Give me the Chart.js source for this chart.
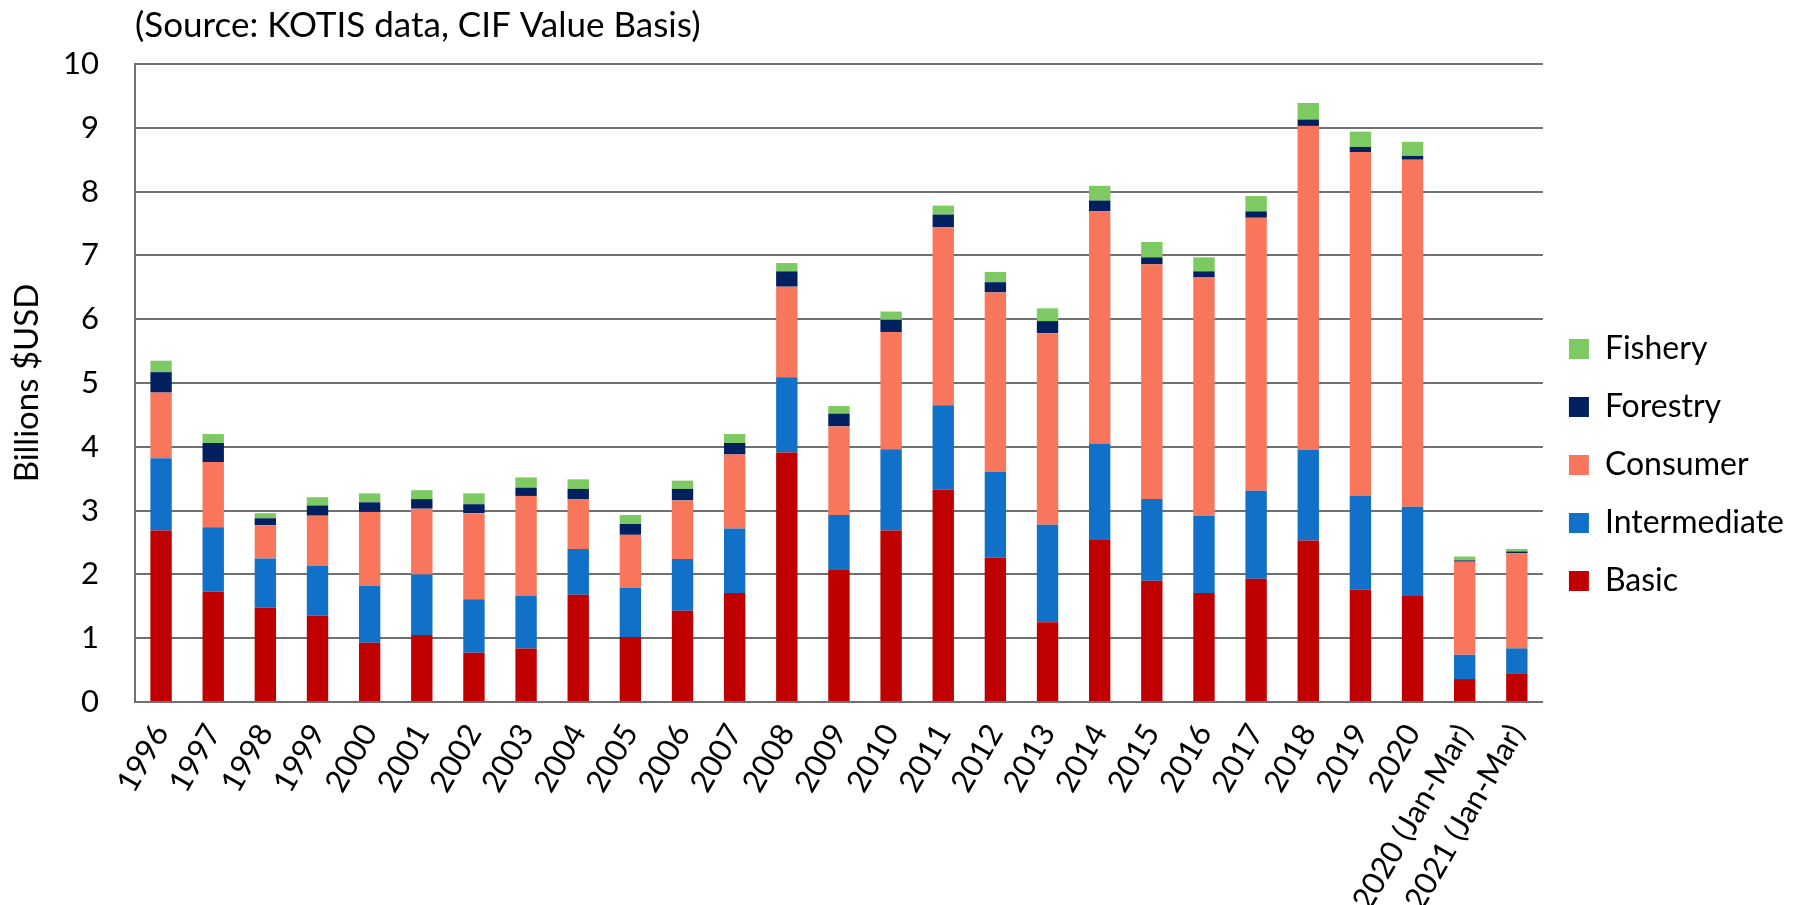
<!DOCTYPE html>
<html>
<head>
<meta charset="utf-8">
<script src="https://cdn.jsdelivr.net/npm/chart.js@4.4.1/dist/chart.umd.min.js"></script>
<style>
  html, body { margin: 0; padding: 0; background: #fff; }
</style>
</head>
<body>
<canvas id="tradeChart" width="1796" height="905"></canvas>
<script>
const years = ['1996', '1997', '1998', '1999', '2000', '2001', '2002', '2003', '2004', '2005',
  '2006', '2007', '2008', '2009', '2010', '2011', '2012', '2013', '2014', '2015',
  '2016', '2017', '2018', '2019', '2020', '2020 (Jan-Mar)', '2021 (Jan-Mar)'];

// billions USD
const basic = [2.69, 1.73, 1.48, 1.35, 0.93, 1.05, 0.77, 0.84, 1.68, 1.02,
  1.43, 1.71, 3.91, 2.07, 2.69, 3.33, 2.26, 1.25, 2.54, 1.90,
  1.71, 1.93, 2.53, 1.76, 1.66, 0.36, 0.44];
const intermediate = [1.13, 1.01, 0.77, 0.78, 0.89, 0.95, 0.84, 0.82, 0.72, 0.77,
  0.81, 1.01, 1.18, 0.86, 1.27, 1.32, 1.35, 1.53, 1.51, 1.28,
  1.21, 1.38, 1.42, 1.47, 1.40, 0.38, 0.40];
const consumer = [1.03, 1.02, 0.52, 0.79, 1.16, 1.03, 1.35, 1.57, 0.78, 0.83,
  0.92, 1.16, 1.42, 1.39, 1.84, 2.79, 2.81, 3.00, 3.64, 3.68,
  3.74, 4.28, 5.08, 5.39, 5.44, 1.46, 1.49];
const forestry = [0.32, 0.30, 0.11, 0.16, 0.15, 0.15, 0.14, 0.13, 0.16, 0.17,
  0.18, 0.18, 0.24, 0.20, 0.19, 0.20, 0.16, 0.19, 0.17, 0.11,
  0.09, 0.10, 0.10, 0.08, 0.06, 0.02, 0.03];
const fishery = [0.18, 0.14, 0.08, 0.13, 0.14, 0.14, 0.17, 0.16, 0.15, 0.14,
  0.13, 0.14, 0.13, 0.12, 0.13, 0.14, 0.16, 0.20, 0.23, 0.24,
  0.22, 0.24, 0.26, 0.24, 0.22, 0.06, 0.04];

const FONT = 'Lato, "Open Sans", sans-serif';
const GRID = '#707070';

function series(label, data, color) {
  return {
    label: label,
    data: data,
    backgroundColor: color,
    borderWidth: 0,
    barPercentage: 0.41,
    categoryPercentage: 1.0,
  };
}

const sourceNote = {
  id: 'sourceNote',
  afterDraw: (chart) => {
    const ctx = chart.ctx;
    ctx.save();
    ctx.fillStyle = '#000';
    ctx.font = '35px ' + FONT;
    ctx.textAlign = 'left';
    ctx.textBaseline = 'middle';
    ctx.fillText('(Source: KOTIS data, CIF Value Basis)', chart.chartArea.left, 26);
    ctx.restore();
  },
};

const ctx = document.getElementById('tradeChart').getContext('2d');
new Chart(ctx, {
  type: 'bar',
  data: {
    labels: years,
    datasets: [
      series('Basic', basic, '#C00000'),
      series('Intermediate', intermediate, '#1170C7'),
      series('Consumer', consumer, '#F8775C'),
      series('Forestry', forestry, '#002060'),
      series('Fishery', fishery, '#7DC962'),
    ],
  },
  options: {
    responsive: false,
    devicePixelRatio: 1,
    animation: false,
    layout: { padding: { top: 64, right: 2, left: 0, bottom: 0 } },
    scales: {
      x: {
        stacked: true,
        grid: { display: false },
        border: { display: true, color: GRID, width: 2 },
        ticks: {
          color: '#000',
          font: { family: FONT, size: 31 },
          minRotation: 60,
          maxRotation: 60,
          autoSkip: false,
          padding: 8,
        },
        afterFit: (scale) => { scale.height = 203; },
      },
      y: {
        stacked: true,
        min: 0,
        max: 10,
        ticks: {
          stepSize: 1,
          color: '#000',
          font: { family: FONT, size: 31 },
          padding: 36,
        },
        grid: { color: GRID, lineWidth: 2, drawTicks: false },
        border: { display: true, color: GRID, width: 2 },
        title: {
          display: true,
          text: 'Billions $USD',
          color: '#000',
          font: { family: FONT, size: 33 },
          padding: { top: 8, bottom: 0 },
        },
        afterFit: (scale) => { scale.width = 135; },
      },
    },
    plugins: {
      legend: {
        position: 'right',
        align: 'start',
        reverse: true,
        title: { display: true, text: ' ', font: { size: 10 }, padding: { top: 231, bottom: 0 } },
        labels: {
          color: '#000',
          font: { family: FONT, size: 32 },
          boxWidth: 20,
          boxHeight: 20,
          padding: 26,
        },
      },
      tooltip: { enabled: false },
    },
  },
  plugins: [sourceNote],
});
</script>
</body>
</html>
